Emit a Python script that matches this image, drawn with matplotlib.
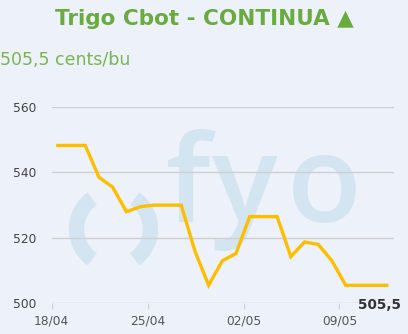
import matplotlib
matplotlib.use("Agg")
import matplotlib.pyplot as plt
from matplotlib.patches import Arc

# ---- data ----
dates = ["18/04", "19/04", "20/04", "21/04", "22/04", "23/04", "24/04", "25/04",
         "26/04", "27/04", "28/04", "29/04", "30/04", "01/05", "02/05", "03/05",
         "04/05", "05/05", "06/05", "07/05", "08/05", "09/05", "10/05", "11/05", "12/05"]
prices = [548.25, 548.25, 548.25, 538.5, 535.5, 528.0, 529.5, 530.0,
          530.0, 530.0, 516.0, 505.5, 513.0, 515.25, 526.5, 526.5,
          526.5, 514.25, 518.75, 518.0, 513.0, 505.5, 505.5, 505.5, 505.5]
tick_labels = ["18/04", "25/04", "02/05", "09/05"]
y_ticks = [500, 520, 540, 560]
last_label = "505,5"
title = "Trigo Cbot - CONTINUA \u25B2"
subtitle = "505,5 cents/bu"
watermark_letters = ["f", "y", "o"]

W, H = 408, 334
BG = "#edf1f9"
GREEN = "#6aab3d"
GREEN2 = "#7ab552"
WM = "#d3e5f0"
LINE = "#fdbe00"

fig = plt.figure(figsize=(W / 100, H / 100), dpi=100, facecolor=BG)

# watermark / overlay axes in pixel coordinates
wm = fig.add_axes([0, 0, 1, 1], zorder=0)
wm.set_xlim(0, W)
wm.set_ylim(H, 0)
wm.axis("off")
wm.patch.set_alpha(0)
for letter, xpix in zip(watermark_letters, [166, 212, 287]):
    wm.text(xpix, 222, letter, fontsize=88, fontfamily="Open Sans", fontweight="semibold",
            color=WM, ha="left", va="baseline")
wm.add_patch(Arc((113.5, 229), 74, 74, theta1=125, theta2=235, lw=11, color=WM,
                 capstyle="butt"))
wm.add_patch(Arc((113.5, 229), 74, 74, theta1=-55, theta2=55, lw=11, color=WM,
                 capstyle="butt"))
wm.text(407, 85, "#\u00bfNOMBRE?", fontsize=9, color="#eff2f9", ha="right", va="center")

# titles
fig.text(0.5, 1 - 19 / H, title, ha="center", va="center", fontsize=15.5,
         fontweight="bold", color=GREEN, fontfamily="DejaVu Sans")
fig.text(0.0, 1 - 60 / H, subtitle, ha="left", va="center", fontsize=12.5,
         color=GREEN2, fontfamily="DejaVu Sans")

# main axes
left, right, top, bottom = 51.7, 394.3, 107.0, 303.3
ax = fig.add_axes([left / W, 1 - bottom / H, (right - left) / W, (bottom - top) / H], zorder=1)
ax.patch.set_alpha(0)

offset = 0.45
xs = [i + offset for i in range(len(dates))]
ax.plot(xs, prices, color=LINE, lw=2.4, solid_joinstyle="miter", zorder=3)

ax.set_xlim(0, 25)
ax.set_ylim(500, 560)
ax.set_yticks(y_ticks)
ax.set_yticklabels([str(v) for v in y_ticks])
tick_pos = [dates.index(t) for t in tick_labels]
ax.set_xticks(tick_pos)
ax.set_xticklabels(tick_labels)
for s in ax.spines.values():
    s.set_visible(False)
ax.grid(axis="y", color="#cfcfd2", lw=1.0, zorder=1)
ax.tick_params(axis="y", length=0, pad=11.0, labelsize=8.8, labelcolor="#444444")
ax.tick_params(axis="x", length=4.3, width=0.8, color="#cfcfd2", pad=4.0, labelsize=8.8,
               labelcolor="#555555")

ax.annotate(last_label, xy=(xs[-1], prices[-1]),
            xytext=(401 - (left + (xs[-1] / 25) * (right - left)), -20),
            textcoords="offset pixels", ha="right", va="center", fontsize=9.8,
            fontweight="bold", color="#333333", annotation_clip=False)

fig.savefig("out.png", dpi=100, facecolor=BG)
